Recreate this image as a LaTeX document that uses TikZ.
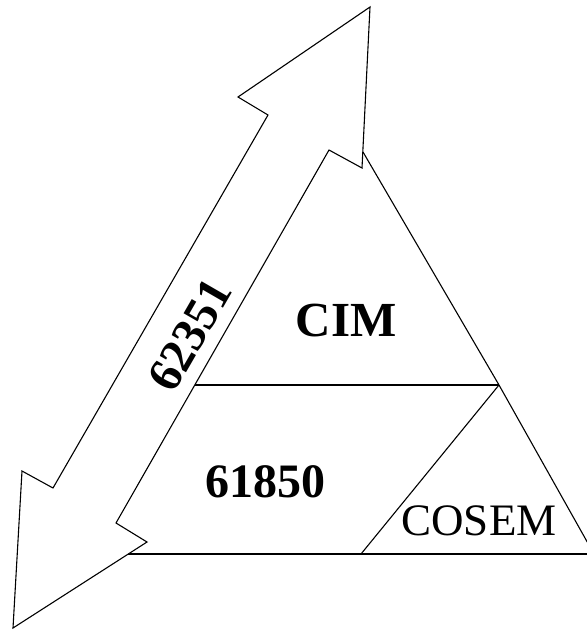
\documentclass[tikz,border=0pt]{standalone}
\usepackage{fontspec}
\setmainfont{Liberation Serif}
\begin{document}
\begin{tikzpicture}[x=1pt,y=-1pt,
  edge/.style={line width=1.3pt,line join=miter},
  arrowshape/.style={line width=1.1pt,fill=white,line join=miter},
  boldlabel/.style={font=\fontsize{48}{48}\selectfont\bfseries,inner sep=0pt},
  reglabel/.style={font=\fontsize{45}{45}\selectfont,inner sep=0pt}]
\clip (0,0) rectangle (587,630);
\useasboundingbox (0,0) rectangle (587,630);
% triangle
\coordinate (apex) at (363,152);
\coordinate (junc) at (499,385);
\coordinate (rc)   at (594,554);
\coordinate (bl)   at (120,554);
\coordinate (ml)   at (190,385);
\coordinate (db)   at (361,554);
\draw[edge,line width=1.1pt] (apex) -- (junc) -- (rc);
\draw[edge] (bl) -- (rc);
\draw[edge] (ml) -- (junc);
\draw[edge,line width=1.1pt] (junc) -- (db);
% double arrow
\coordinate (T) at (370,7);
\coordinate (A) at (238,97);
\coordinate (B) at (268,115);
\coordinate (C) at (53,488);
\coordinate (D) at (22,471);
\coordinate (E) at (13,628);
\coordinate (F) at (147,542);
\coordinate (G) at (116,523);
\coordinate (H) at (329,150);
\coordinate (I) at (362,168);
\draw[arrowshape] (T) -- (A) -- (B) -- (C) -- (D) -- (E) -- (F) -- (G) -- (H) -- (I) -- cycle;
% labels
\node[boldlabel,font=\fontsize{49}{49}\selectfont\bfseries,anchor=base] (cim) at (346,336) {CIM};
\node[boldlabel,anchor=base] (iec) at (265,497) {61850};
\node[reglabel,anchor=base] (cosem) at (479,535) {COSEM};
\node[boldlabel,rotate=60] (cim62351) at (190,335) {62351};
\end{tikzpicture}
\end{document}
